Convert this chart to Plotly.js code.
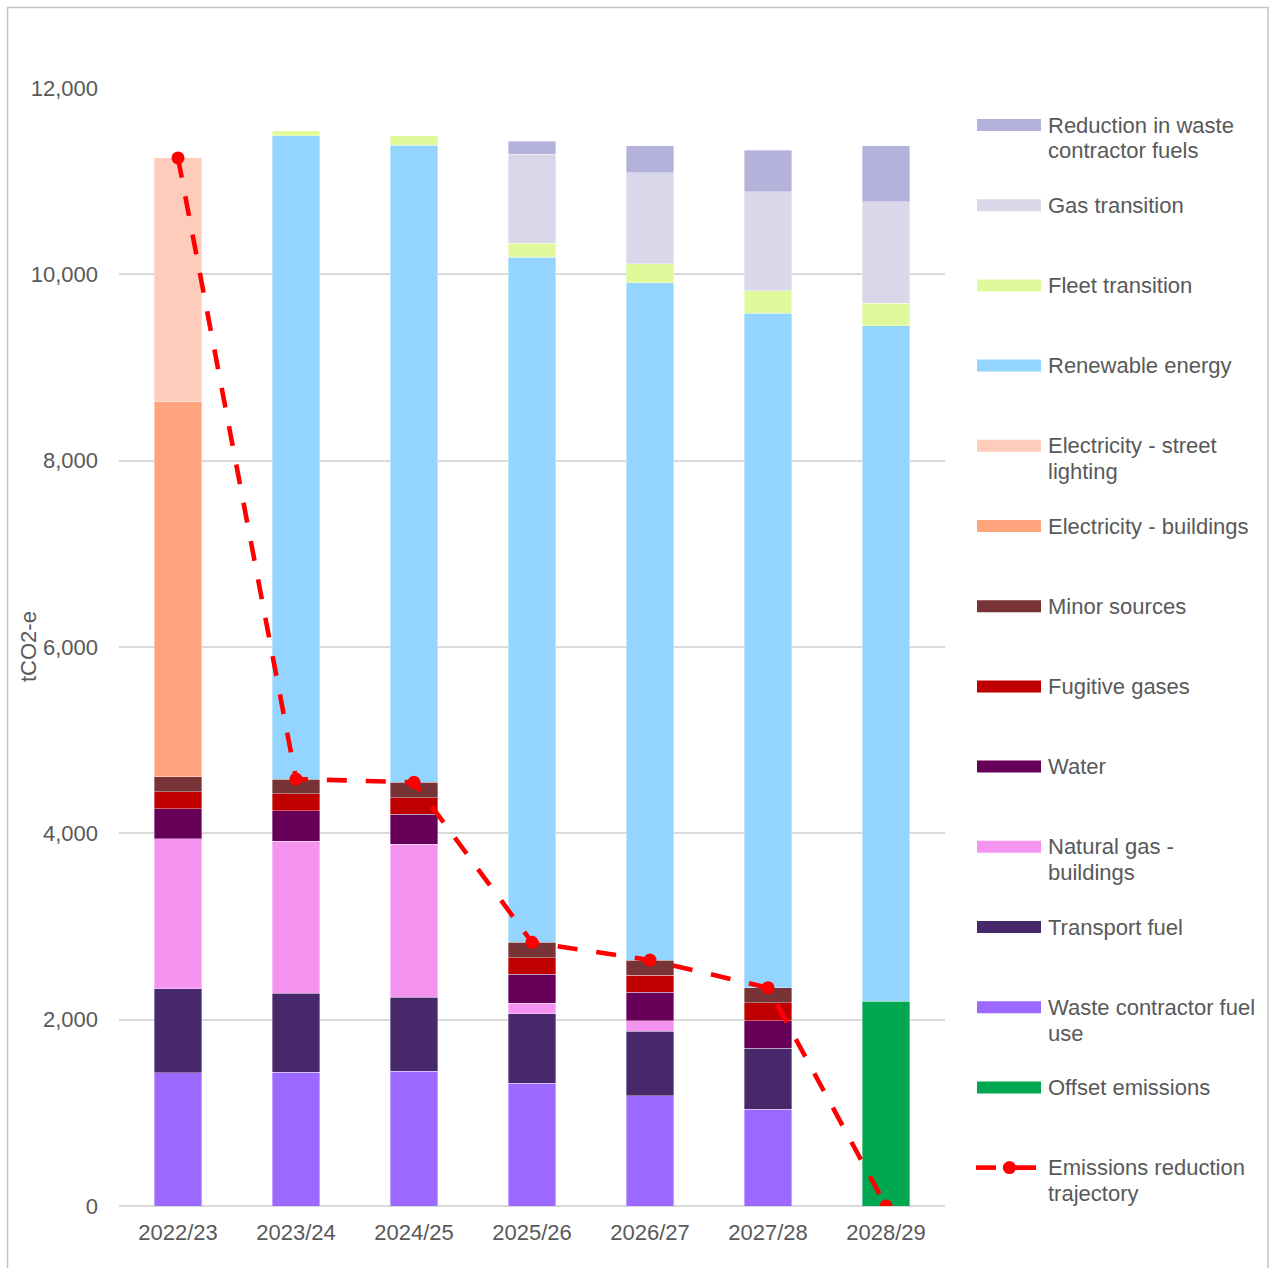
<!DOCTYPE html>
<html>
<head>
<meta charset="utf-8">
<script src="https://cdn.plot.ly/plotly-3.0.1.min.js"></script>
<style>html,body{margin:0;padding:0;background:#fff;}</style>
</head>
<body>
<div id="chart" style="width:1270px;height:1268px;"></div>
<script>
// Financial years on the x axis
const years = ['2022/23', '2023/24', '2024/25', '2025/26', '2026/27', '2027/28', '2028/29'];

// Remaining emissions by source (tCO2-e)
const offsetEmissions   = [0, 0, 0, 0, 0, 0, 2200];
const wasteContractor   = [1428, 1438, 1449, 1317, 1181, 1041, 0];
const transportFuel     = [902, 848, 794, 744, 694, 651, 0];
const naturalGas        = [1612, 1628, 1639, 114, 111, 0, 0];
const water             = [323, 326, 322, 312, 311, 297, 0];
const fugitiveGases     = [182, 186, 179, 178, 179, 190, 0];
const minorSources      = [158, 157, 165, 165, 164, 164, 0];
const elecBuildings     = [4025, 0, 0, 0, 0, 0, 0];
const elecStreetLight   = [2619, 0, 0, 0, 0, 0, 0];

// Reductions achieved by each action (tCO2-e)
const renewableEnergy   = [0, 6902, 6840, 7353, 7270, 7238, 7249];
const fleetTransition   = [0, 54, 97, 150, 201, 244, 243];
const gasTransition     = [0, 0, 0, 958, 977, 1059, 1088];
const wasteFuelCut      = [0, 0, 0, 140, 293, 450, 601];

// Target trajectory (tCO2-e)
const trajectory        = [11249, 4583, 4548, 2830, 2640, 2343, 0];

// Y axis ticks
const yTicks = [0, 2000, 4000, 6000, 8000, 10000, 12000];

// Series names as shown in the key (top to bottom)
const keyLabels = [
  'Reduction in waste<br>contractor fuels',
  'Gas transition',
  'Fleet transition',
  'Renewable energy',
  'Electricity - street<br>lighting',
  'Electricity - buildings',
  'Minor sources',
  'Fugitive gases',
  'Water',
  'Natural gas -<br>buildings',
  'Transport fuel',
  'Waste contractor fuel<br>use',
  'Offset emissions',
  'Emissions reduction<br>trajectory'
];

const FONT = 'Liberation Sans, Arial, Helvetica, sans-serif';
const TEXT = '#595959';

// Stack order, bottom to top
const stack = [
  {name: 'Offset emissions',                   y: offsetEmissions, color: '#00A650'},
  {name: 'Waste contractor fuel use',          y: wasteContractor, color: '#9B69FF'},
  {name: 'Transport fuel',                     y: transportFuel,   color: '#47296B'},
  {name: 'Natural gas - buildings',            y: naturalGas,      color: '#F593F0'},
  {name: 'Water',                              y: water,           color: '#660058'},
  {name: 'Fugitive gases',                     y: fugitiveGases,   color: '#C00000'},
  {name: 'Minor sources',                      y: minorSources,    color: '#773335'},
  {name: 'Electricity - buildings',            y: elecBuildings,   color: '#FFA47D'},
  {name: 'Electricity - street lighting',      y: elecStreetLight, color: '#FFCCBB'},
  {name: 'Renewable energy',                   y: renewableEnergy, color: '#93D5FE'},
  {name: 'Fleet transition',                   y: fleetTransition, color: '#E0F99A'},
  {name: 'Gas transition',                     y: gasTransition,   color: '#D9D7EA'},
  {name: 'Reduction in waste contractor fuels',y: wasteFuelCut,    color: '#B4B1DA'}
];

const traces = stack.map(s => ({
  type: 'bar',
  name: s.name,
  x: years,
  y: s.y.map(v => v === 0 ? null : v),
  marker: {color: s.color, line: {color: 'rgba(255,255,255,0.45)', width: 0.8}},
  showlegend: false,
  hoverinfo: 'name+y'
}));

traces.push({
  type: 'scatter',
  mode: 'lines+markers',
  name: 'Emissions reduction trajectory',
  x: years,
  y: trajectory,
  line: {color: '#FF0000', width: 4.6, dash: '20px,19px'},
  marker: {color: '#FF0000', size: 13},
  showlegend: false
});

// Plot-area geometry in pixels, used to place the key in paper units
const PL = 119, PR = 945, PT = 88, PB = 1206;
const px = x => (x - PL) / (PR - PL);
const py = y => (PB - y) / (PB - PT);

// Key colours, matched by position to keyLabels
const keyColors = ['#B4B1DA', '#D9D7EA', '#E0F99A', '#93D5FE', '#FFCCBB', '#FFA47D',
                   '#773335', '#C00000', '#660058', '#F593F0', '#47296B', '#9B69FF', '#00A650'];

const shapes = [];
const annotations = [];

keyLabels.forEach((label, i) => {
  const cy = 125 + i * 80.2;
  if (i < keyColors.length) {
    shapes.push({type: 'rect', xref: 'paper', yref: 'paper', layer: 'above',
      x0: px(977), x1: px(1041), y0: py(cy + 6), y1: py(cy - 6),
      fillcolor: keyColors[i], line: {width: 0}});
  } else {
    shapes.push({type: 'line', xref: 'paper', yref: 'paper',
      x0: px(976), x1: px(996), y0: py(cy), y1: py(cy), line: {color: '#FF0000', width: 4.6}});
    shapes.push({type: 'line', xref: 'paper', yref: 'paper',
      x0: px(1003), x1: px(1036), y0: py(cy), y1: py(cy), line: {color: '#FF0000', width: 4.6}});
    shapes.push({type: 'circle', xref: 'paper', yref: 'paper',
      x0: px(1003), x1: px(1016), y0: py(cy + 6.5), y1: py(cy - 6.5),
      fillcolor: '#FF0000', line: {width: 0}});
  }
  label.split('<br>').forEach((line, j) => {
    annotations.push({xref: 'paper', yref: 'paper', x: px(1046), y: py(cy + j * 26),
      xanchor: 'left', yanchor: 'middle', showarrow: false, text: line,
      font: {family: FONT, size: 22, color: TEXT}});
  });
});

// Y axis title
annotations.push({xref: 'paper', yref: 'paper', x: px(28), y: py(647), textangle: -90,
  xanchor: 'center', yanchor: 'middle', showarrow: false, text: 'tCO2-e',
  font: {family: FONT, size: 22, color: TEXT}});

// Outer frame
shapes.push({type: 'rect', xref: 'paper', yref: 'paper', layer: 'below',
  x0: px(7.5), x1: px(1268), y0: py(1290), y1: py(7.5),
  line: {color: '#C4C4C4', width: 1.5}, fillcolor: 'rgba(0,0,0,0)'});

const layout = {
  width: 1270, height: 1268,
  margin: {l: PL, r: 1270 - PR, t: PT, b: 1268 - PB},
  paper_bgcolor: '#fff', plot_bgcolor: '#fff',
  barmode: 'stack', bargap: 0.6,
  font: {family: FONT, size: 22, color: TEXT},
  showlegend: false,
  xaxis: {type: 'category', showgrid: false, ticks: '', ticklabelstandoff: 11,
    tickfont: {family: FONT, size: 22, color: TEXT}, showline: false, zeroline: false},
  yaxis: {range: [0, 12000], tickvals: yTicks, tickformat: ',', ticks: '',
    ticklabelstandoff: 20, gridcolor: '#D9D9D9', gridwidth: 1.8,
    zeroline: true, zerolinecolor: '#D9D9D9', zerolinewidth: 1.8,
    tickfont: {family: FONT, size: 22, color: TEXT}, showline: false},
  shapes: shapes,
  annotations: annotations
};

Plotly.newPlot('chart', traces, layout, {displayModeBar: false, staticPlot: true});
</script>
</body>
</html>
